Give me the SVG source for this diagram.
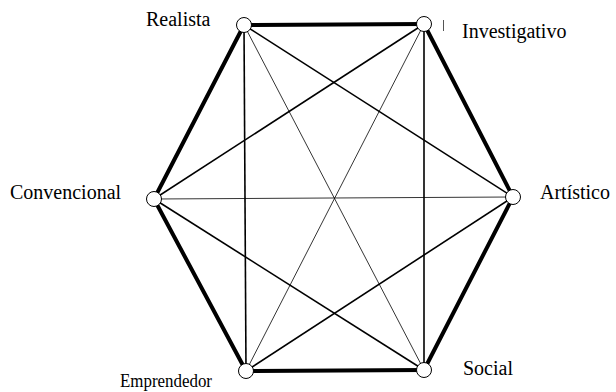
<svg xmlns="http://www.w3.org/2000/svg" width="616" height="392" viewBox="0 0 616 392">
<style>
.side{stroke:#000;stroke-width:4;stroke-linecap:round}
.short{stroke:#000;stroke-width:1.6}
.long{stroke:#000;stroke-width:0.8}
.node{fill:#fff;stroke:#000;stroke-width:1}
text{font-family:"Liberation Serif","Times New Roman",serif;font-size:20px;fill:#000}
</style>
<rect width="616" height="392" fill="#fff"/>
<g id="connectors">
<line class="long" x1="244" y1="25" x2="424" y2="370"/>
<line class="long" x1="424" y1="24" x2="246" y2="371"/>
<line class="long" x1="154" y1="199" x2="513" y2="197"/>
<line class="short" x1="244" y1="25" x2="513" y2="197"/>
<line class="short" x1="244" y1="25" x2="246" y2="371"/>
<line class="short" x1="424" y1="24" x2="424" y2="370"/>
<line class="short" x1="424" y1="24" x2="154" y2="199"/>
<line class="short" x1="513" y1="197" x2="246" y2="371"/>
<line class="short" x1="424" y1="370" x2="154" y2="199"/>
<line class="side" x1="244" y1="25" x2="424" y2="24"/>
<line class="side" x1="424" y1="24" x2="513" y2="197"/>
<line class="side" x1="513" y1="197" x2="424" y2="370"/>
<line class="side" x1="424" y1="370" x2="246" y2="371"/>
<line class="side" x1="246" y1="371" x2="154" y2="199"/>
<line class="side" x1="154" y1="199" x2="244" y2="25"/>
<line x1="443.5" y1="20" x2="443.5" y2="31" stroke="#555" stroke-width="1"/>
</g>
<g id="realista"><circle class="node" cx="244" cy="25" r="7.5"/><text x="146" y="25.5">Realista</text></g>
<g id="investigativo"><circle class="node" cx="424" cy="24" r="7.5"/><text x="462" y="38">Investigativo</text></g>
<g id="artistico"><circle class="node" cx="513" cy="197" r="7.5"/><text x="540" y="199">Artístico</text></g>
<g id="social"><circle class="node" cx="424" cy="370" r="7.5"/><text x="463" y="375">Social</text></g>
<g id="emprendedor"><circle class="node" cx="246" cy="371" r="7.5"/><text x="120" y="387" style="font-size:18px" textLength="92" lengthAdjust="spacingAndGlyphs">Emprendedor</text></g>
<g id="convencional"><circle class="node" cx="154" cy="199" r="7.5"/><text x="10" y="199">Convencional</text></g>
</svg>
